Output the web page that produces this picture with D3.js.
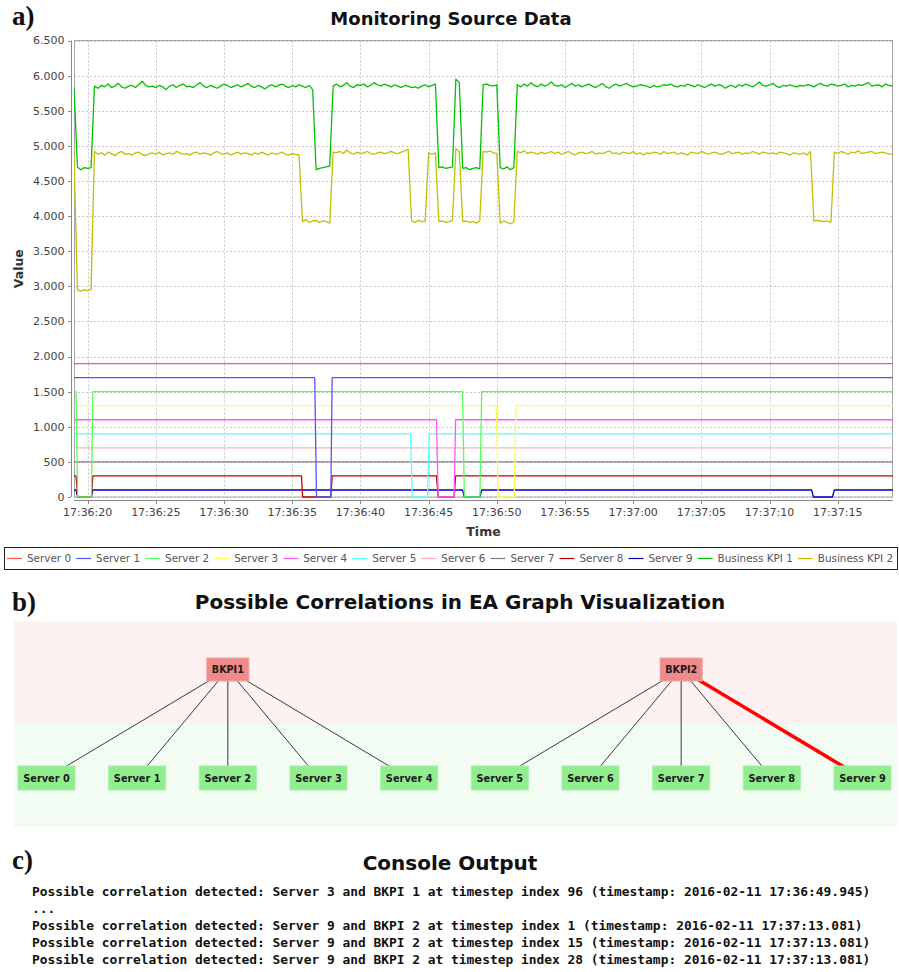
<!DOCTYPE html>
<html><head><meta charset="utf-8">
<script src="https://cdn.jsdelivr.net/npm/d3@7"></script>
<style>body{margin:0;background:#fff;} svg{display:block;}</style>
</head><body><svg id="c" width="899" height="972"></svg>
<script>
// ================= DATA =================
// Part a: times are seconds after 17:36:00 on 2016-02-11
const seriesNames = ["Server 0","Server 1","Server 2","Server 3","Server 4","Server 5","Server 6","Server 7","Server 8","Server 9","Business KPI 1","Business KPI 2"];
const seriesColors = ["#ff5555","#5555ff","#55ff55","#ffff55","#ff55ff","#55ffff","#ffafaf","#808080","#c00000","#0000c0","#00c000","#c0c000"];

const server0 = [[19.0,1900],[79.05,1900]];
const server1 = [[19.0,1700],[36.65,1700],[36.78,0],[37.83,0],[37.93,1700],[79.05,1700]];
const server2 = [[19.0,1500],[19.15,1500],[19.27,0],[20.28,0],[20.38,1500],[47.49,1500],[47.62,0],[48.76,0],[48.89,1500],[79.05,1500]];
const server3 = [[19.0,1300],[49.97,1300],[50.1,0],[51.28,0],[51.4,1300],[79.05,1300]];
const server4 = [[19.0,1100],[45.58,1100],[45.7,0],[46.87,0],[46.98,1100],[79.05,1100]];
const server5 = [[19.0,900],[43.68,900],[43.8,0],[44.92,0],[45.04,900],[79.05,900]];
const server6 = [[19.0,700],[79.05,700]];
const server7 = [[19.0,500],[79.05,500]];
const server8 = [[19.0,300],[19.15,300],[19.27,0],[20.28,0],[20.38,300],[35.68,300],[35.76,0],[37.83,0],[37.93,300],[45.58,300],[45.7,0],[46.87,0],[46.98,300],[79.05,300]];
const server9 = [[19.0,100],[19.15,100],[19.27,0],[20.28,0],[20.38,100],[47.49,100],[47.62,0],[48.76,0],[48.89,100],[73.08,100],[73.22,0],[74.61,0],[74.75,100],[79.05,100]];

// Business KPIs sampled every 0.25 s starting at 17:36:19.00
const kpiStart = 19.0, kpiStep = 0.25;
const kpi1Values = [
 5830,
 4700,4660,4690,4680,4690,
 5850,5820,5860,5840,5880,5830,5850,5890,5840,5820,
 5850,5860,5830,5870,5920,5860,5840,5850,5830,5860,
 5840,5800,5850,5870,5830,5860,5880,5840,5850,5830,
 5870,5900,5850,5830,5860,5840,5820,5850,5880,5860,
 5830,5850,5870,5840,5860,5890,5850,5830,5860,5840,
 5810,5850,5870,5840,5860,5880,5850,5830,5860,5840,
 5870,5850,5830,5860,5800,
 4660,4680,4690,4700,4710,
 5850,5880,5840,5860,5900,5850,5830,5870,5860,5880,
 5840,5860,5900,5870,5850,5880,5860,5840,5870,5850,
 5830,5860,5850,5830,5840,5820,5850,5870,5840,5860,5880,
 4690,4700,4680,4690,4700,
 5950,5900,
 4680,4690,4660,4680,4690,4670,
 5870,5880,5860,5850,5870,
 4690,4670,4700,4660,4690,
 5870,5840,5880,5850,5900,5860,5840,5880,5850,5870,
 5910,5860,5850,5870,5830,5860,5890,5850,5870,5840,
 5860,5880,5850,5830,5860,5890,5840,5820,5860,5880,
 5850,5870,5890,5860,5840,5850,5870,5860,5850,5830,
 5860,5840,5850,5870,5860,5880,5850,5840,5860,5850,
 5880,5860,5840,5870,5850,5830,5860,5880,5850,5870,
 5860,5820,5850,5860,5830,5870,5850,5880,5860,5840,
 5870,5910,5860,5850,5870,5890,5850,5830,5860,5850,
 5870,5850,5840,5860,5850,5870,5860,5840,5870,5890,
 5860,5850,5880,5870,5850,5860,5880,5840,5860,5850,
 5870,5860,5880,5900,5850,5860,5870,5840,5880,5860,
 5850
];
const kpi2Values = [
 4870,
 2950,2930,2950,2940,2960,
 4920,4880,4900,4870,4910,4890,4860,4900,4920,4880,
 4890,4870,4900,4910,4880,4860,4890,4900,4880,4910,
 4870,4890,4900,4880,4920,4900,4880,4890,4870,4900,
 4910,4880,4900,4890,4870,4900,4920,4890,4880,4900,
 4870,4890,4910,4880,4900,4890,4870,4900,4880,4910,
 4890,4870,4900,4880,4890,4910,4880,4870,4890,4880,
 4870,
 3920,3950,3910,3930,3940,3910,3930,3920,3900,
 4910,4900,4920,4890,4940,4900,4880,4910,4890,4900,
 4920,4890,4880,4900,4910,4890,4900,4920,4900,4890,
 4910,4930,4950,
 3930,3910,3940,3920,3930,
 4900,4880,4900,
 3920,3930,3910,3920,3940,
 4960,4920,
 3920,3930,3910,3920,3900,3930,
 4920,4910,4930,4900,4890,
 3900,3930,3910,3890,3920,
 4920,4900,4930,4890,4910,4900,4880,4910,4890,4900,
 4920,4890,4910,4880,4900,4920,4890,4870,4900,4910,
 4890,4900,4920,4880,4900,4890,4910,4930,4890,4900,
 4880,4910,4900,4890,4920,4880,4900,4870,4900,4890,
 4910,4900,4880,4920,4890,4900,4910,4880,4900,4890,
 4870,4910,4900,4890,4920,4900,4880,4900,4910,4890,
 4880,4900,4920,4890,4900,4910,4880,4900,4890,4920,
 4900,4880,4910,4900,4890,4900,4880,4910,4900,4890,
 4870,4900,4890,4880,4900,4870,4920,
 3930,3940,3930,3920,3930,3910,
 4910,4890,4920,4900,4880,4910,4900,4930,4890,4900,
 4910,4920,4890,4900,4910,4900,4880,4890
];
const yTickValues = [0,500,1000,1500,2000,2500,3000,3500,4000,4500,5000,5500,6000,6500];
const xTickSeconds = [20,25,30,35,40,45,50,55,60,65,70,75];
const xDomainSeconds = [19.0, 79.05];

// Part b: graph
const graphServers = ["Server 0","Server 1","Server 2","Server 3","Server 4","Server 5","Server 6","Server 7","Server 8","Server 9"];
const graphKpis = ["BKPI1","BKPI2"];
const kpiMembers = [
  ["Server 0","Server 1","Server 2","Server 3","Server 4"],
  ["Server 5","Server 6","Server 7","Server 8","Server 9"]
];
const highlightedEdges = [["BKPI2","Server 9"]];

// Part c: console
const consoleLines = [
  "Possible correlation detected: Server 3 and BKPI 1 at timestep index 96 (timestamp: 2016-02-11 17:36:49.945)",
  "...",
  "Possible correlation detected: Server 9 and BKPI 2 at timestep index 1 (timestamp: 2016-02-11 17:37:13.081)",
  "Possible correlation detected: Server 9 and BKPI 2 at timestep index 15 (timestamp: 2016-02-11 17:37:13.081)",
  "Possible correlation detected: Server 9 and BKPI 2 at timestep index 28 (timestamp: 2016-02-11 17:37:13.081)"
];

// ================= DRAWING =================
const svg = d3.select("#c");
const SANS = "DejaVu Sans, Verdana, sans-serif";
const SERIF = "Liberation Serif, Times New Roman, serif";
const base = new Date(2016,1,11,17,36,0).getTime();
const toDate = s => new Date(base + s*1000);

function panelLabel(t, yb){
  svg.append("text").attr("x",12).attr("y",yb).attr("font-family",SERIF)
    .attr("font-weight","bold").attr("font-size",27).attr("fill","#111").text(t);
}

// ---- Part a ----
panelLabel("a)", 25);
svg.append("text").attr("x",451).attr("y",24.5).attr("text-anchor","middle")
  .attr("font-family",SANS).attr("font-weight","bold").attr("font-size",18).attr("fill","#111")
  .text("Monitoring Source Data");

const pl = 74, pr = 893, pt = 40.5, pb = 497;
const x = d3.scaleTime().domain(xDomainSeconds.map(toDate)).range([pl, pr]);
const y = d3.scaleLinear().domain([0,6500]).range([pb, pt]);
const fmtY = d3.formatLocale({decimal:",", thousands:".", grouping:[3], currency:["",""]}).format(",d");
const fmtX = d3.timeFormat("%H:%M:%S");

const plot = svg.append("g");
plot.append("rect").attr("x",pl).attr("y",pt).attr("width",pr-pl).attr("height",pb-pt).attr("fill","#fff");
// grid
plot.selectAll("line.gy").data(yTickValues).join("line")
  .attr("x1",pl).attr("x2",pr)
  .attr("y1",d=>Math.round(y(d))+0.5).attr("y2",d=>Math.round(y(d))+0.5)
  .attr("stroke","#c8c8c8").attr("stroke-dasharray","2,2");
plot.selectAll("line.gx").data(xTickSeconds).join("line")
  .attr("y1",pt).attr("y2",pb)
  .attr("x1",d=>Math.round(x(toDate(d)))+0.5).attr("x2",d=>Math.round(x(toDate(d)))+0.5)
  .attr("stroke","#c8c8c8").attr("stroke-dasharray","2,2");
plot.append("rect").attr("x",pl+0.5).attr("y",pt).attr("width",pr-pl-1).attr("height",pb-pt)
  .attr("fill","none").attr("stroke","#a8a8a8").attr("stroke-width",1);

// series
const serverSeries = [server0,server1,server2,server3,server4,server5,server6,server7,server8,server9];
const kpi1 = kpi1Values.map((v,i)=>[kpiStart+i*kpiStep, v]);
const kpi2 = kpi2Values.map((v,i)=>[kpiStart+i*kpiStep, v]);
const allSeries = serverSeries.concat([kpi1, kpi2]);
const line = d3.line().x(d=>x(toDate(d[0]))).y(d=>y(d[1]));
svg.append("clipPath").attr("id","pc").append("rect").attr("x",pl).attr("y",pt-2).attr("width",pr-pl).attr("height",pb-pt+4);
const lines = plot.append("g").attr("clip-path","url(#pc)");
for (let i = allSeries.length-1; i >= 0; i--) {
  lines.append("path").attr("d", line(allSeries[i])).attr("fill","none")
    .attr("stroke", seriesColors[i]).attr("stroke-width", 1.3).attr("stroke-linejoin","round");
}

// axes
const ax = svg.append("g");
ax.append("line").attr("x1",71.5).attr("x2",71.5).attr("y1",pt).attr("y2",pb).attr("stroke","#888");
ax.append("line").attr("x1",pl).attr("x2",pr).attr("y1",500.5).attr("y2",500.5).attr("stroke","#888");
ax.selectAll("line.ty").data(yTickValues).join("line")
  .attr("x1",68).attr("x2",71).attr("y1",d=>Math.round(y(d))+0.5).attr("y2",d=>Math.round(y(d))+0.5).attr("stroke","#888");
ax.selectAll("text.ty").data(yTickValues).join("text")
  .attr("x",64.5).attr("y",d=>y(d)).attr("dy","0.36em").attr("text-anchor","end")
  .attr("font-family",SANS).attr("font-size",11).attr("fill","#444").text(d=>fmtY(d));
ax.selectAll("line.tx").data(xTickSeconds).join("line")
  .attr("x1",d=>Math.round(x(toDate(d)))+0.5).attr("x2",d=>Math.round(x(toDate(d)))+0.5)
  .attr("y1",501).attr("y2",504).attr("stroke","#888");
ax.selectAll("text.tx").data(xTickSeconds).join("text")
  .attr("x",d=>x(toDate(d))).attr("y",516).attr("text-anchor","middle")
  .attr("font-family",SANS).attr("font-size",11).attr("fill","#444").text(d=>fmtX(toDate(d)));
svg.append("text").attr("x",(pl+pr)/2).attr("y",536).attr("text-anchor","middle")
  .attr("font-family",SANS).attr("font-weight","bold").attr("font-size",12.5).attr("fill","#333").text("Time");
svg.append("text").attr("transform",`translate(23,${(pt+pb)/2}) rotate(-90)`).attr("text-anchor","middle")
  .attr("font-family",SANS).attr("font-weight","bold").attr("font-size",12.5).attr("fill","#333").text("Value");

// legend
const lg = svg.append("g");
const lgX0 = 4, lgX1 = 897, lgY0 = 547, lgY1 = 569, lgMid = (lgY0+lgY1)/2;
lg.append("rect").attr("x",lgX0+0.5).attr("y",lgY0+0.5).attr("width",lgX1-lgX0).attr("height",lgY1-lgY0)
  .attr("fill","#fff").attr("stroke","#222");
const items = seriesNames.map((n,i)=>{
  const t = lg.append("text").attr("y",lgMid).attr("dy","0.36em")
    .attr("font-family",SANS).attr("font-size",10.4).attr("fill","#555").text(n);
  return {t, w: t.node().getComputedTextLength(), c: seriesColors[i]};
});
const sw = 15, sg = 5;
const totalW = d3.sum(items, d=>sw+sg+d.w);
const innerW = (lgX1-4) - (lgX0+3);
const gap = (innerW - totalW)/(items.length-1);
let cx = lgX0+3;
items.forEach(d=>{
  lg.append("line").attr("x1",cx).attr("x2",cx+sw).attr("y1",lgMid+0.5).attr("y2",lgMid+0.5)
    .attr("stroke",d.c).attr("stroke-width",1.2);
  d.t.attr("x",cx+sw+sg);
  cx += sw+sg+d.w+gap;
});

// ---- Part b ----
panelLabel("b)", 611);
svg.append("text").attr("x",460).attr("y",608.5).attr("text-anchor","middle")
  .attr("font-family",SANS).attr("font-weight","bold").attr("font-size",20).attr("fill","#111")
  .text("Possible Correlations in EA Graph Visualization");
const gx0 = 14, gx1 = 897, gTop = 621, gMid = 724, gBot = 827;
svg.append("rect").attr("x",gx0).attr("y",gTop).attr("width",gx1-gx0).attr("height",gMid-gTop).attr("fill","#fdf2f1");
svg.append("rect").attr("x",gx0).attr("y",gMid).attr("width",gx1-gx0).attr("height",gBot-gMid).attr("fill","#f3fcf3");
const nx = d3.scalePoint().domain(graphServers).range([46.5, 862.5]);
const kpiY = 669.5, srvY = 778;
const kpiX = k => d3.mean(kpiMembers[graphKpis.indexOf(k)], s=>nx(s));
const edges = [];
graphKpis.forEach((k,i)=>kpiMembers[i].forEach(s=>edges.push({k, s,
  hi: highlightedEdges.some(e=>e[0]===k && e[1]===s)})));
svg.selectAll("line.edge").data(edges).join("line")
  .attr("x1",d=>kpiX(d.k)).attr("y1",kpiY).attr("x2",d=>nx(d.s)).attr("y2",srvY)
  .attr("stroke",d=>d.hi?"#ff0000":"#3a3a3a").attr("stroke-width",d=>d.hi?3.5:1);
const srvW = 57, srvH = 24, kW = 42, kH = 23;
const sn = svg.selectAll("g.srv").data(graphServers).join("g").attr("transform",d=>`translate(${nx(d)},${srvY})`);
sn.append("rect").attr("x",-srvW/2).attr("y",-srvH/2).attr("width",srvW).attr("height",srvH)
  .attr("fill","#90ee90").attr("stroke","#a8f0a8").attr("stroke-width",1);
sn.append("text").attr("text-anchor","middle").attr("dy","0.36em").attr("font-family",SANS)
  .attr("font-weight","bold").attr("font-size",9.8).attr("fill","#1a1a1a").text(d=>d);
const kn = svg.selectAll("g.kpi").data(graphKpis).join("g").attr("transform",d=>`translate(${kpiX(d)},${kpiY})`);
kn.append("rect").attr("x",-kW/2).attr("y",-kH/2).attr("width",kW).attr("height",kH)
  .attr("fill","#f08a8a").attr("stroke","#f4a0a0").attr("stroke-width",1);
kn.append("text").attr("text-anchor","middle").attr("dy","0.36em").attr("font-family",SANS)
  .attr("font-weight","bold").attr("font-size",9.6).attr("fill","#1a1a1a").text(d=>d);

// ---- Part c ----
panelLabel("c)", 869);
svg.append("text").attr("x",450).attr("y",869.5).attr("text-anchor","middle")
  .attr("font-family",SANS).attr("font-weight","bold").attr("font-size",20).attr("fill","#111")
  .text("Console Output");
svg.selectAll("text.cons").data(consoleLines).join("text")
  .attr("x",32).attr("y",(d,i)=>895.5+i*17.1)
  .attr("font-family","DejaVu Sans Mono, Liberation Mono, monospace").attr("font-weight","bold")
  .attr("font-size",12.9).attr("fill","#111").attr("xml:space","preserve").text(d=>d);
</script>
</body></html>
